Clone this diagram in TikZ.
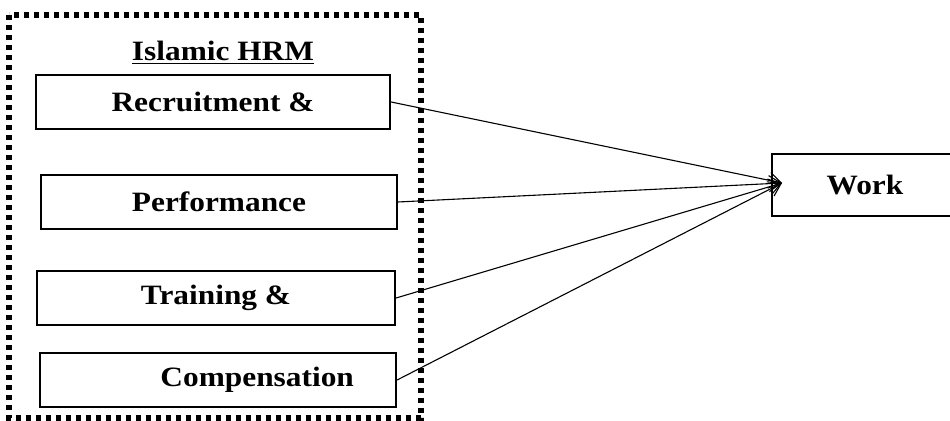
\documentclass[tikz,border=0pt]{standalone}
\usepackage{graphicx}
\usepackage{fontspec}
\setmainfont{Liberation Serif}
\usetikzlibrary{arrows.meta}
\tikzset{
  hrmbox/.style={draw, line width=1.1pt, minimum height=27pt, inner sep=0pt,
    font=\fontsize{14}{16}\selectfont\bfseries},
  hrmframe/.style={line width=2.8pt, dash pattern=on 2.6pt off 2.4pt},
  link/.style={line width=0.55pt, -{Straight Barb[length=6pt,width=8pt]}}
}
\newcommand{\wide}[1]{\scalebox{1.12}[1]{#1}}

\begin{document}
\begin{tikzpicture}[x=0.5pt,y=-0.5pt]
\useasboundingbox (0,0) rectangle (950,421);
\draw[hrmframe] (9,15) rectangle (421,418);
\node[font=\fontsize{14}{16}\selectfont\bfseries] (title) at (223,53) {\wide{\underline{Islamic HRM}}};

\foreach \nm/\cx/\cy/\w/\txt in {
rec/213/102/354/{Recruitment \&},
perf/219/202/356/{Performance},
train/216/298/358/{Training \&},
comp/218/380/356/{\hspace{35pt}Compensation}}
{
    \node[hrmbox, minimum width=\w*0.5pt] (\nm) at (\cx,\cy) {\wide{\txt}};
}

\node[hrmbox, minimum width=93pt, minimum height=31pt] (work) at (865,185) {\wide{Work}};

\coordinate (tip) at (782,183);
\foreach \nm in {rec,perf,train,comp}
    \draw[link] (\nm.east) -- (tip);
\end{tikzpicture}
\end{document}
